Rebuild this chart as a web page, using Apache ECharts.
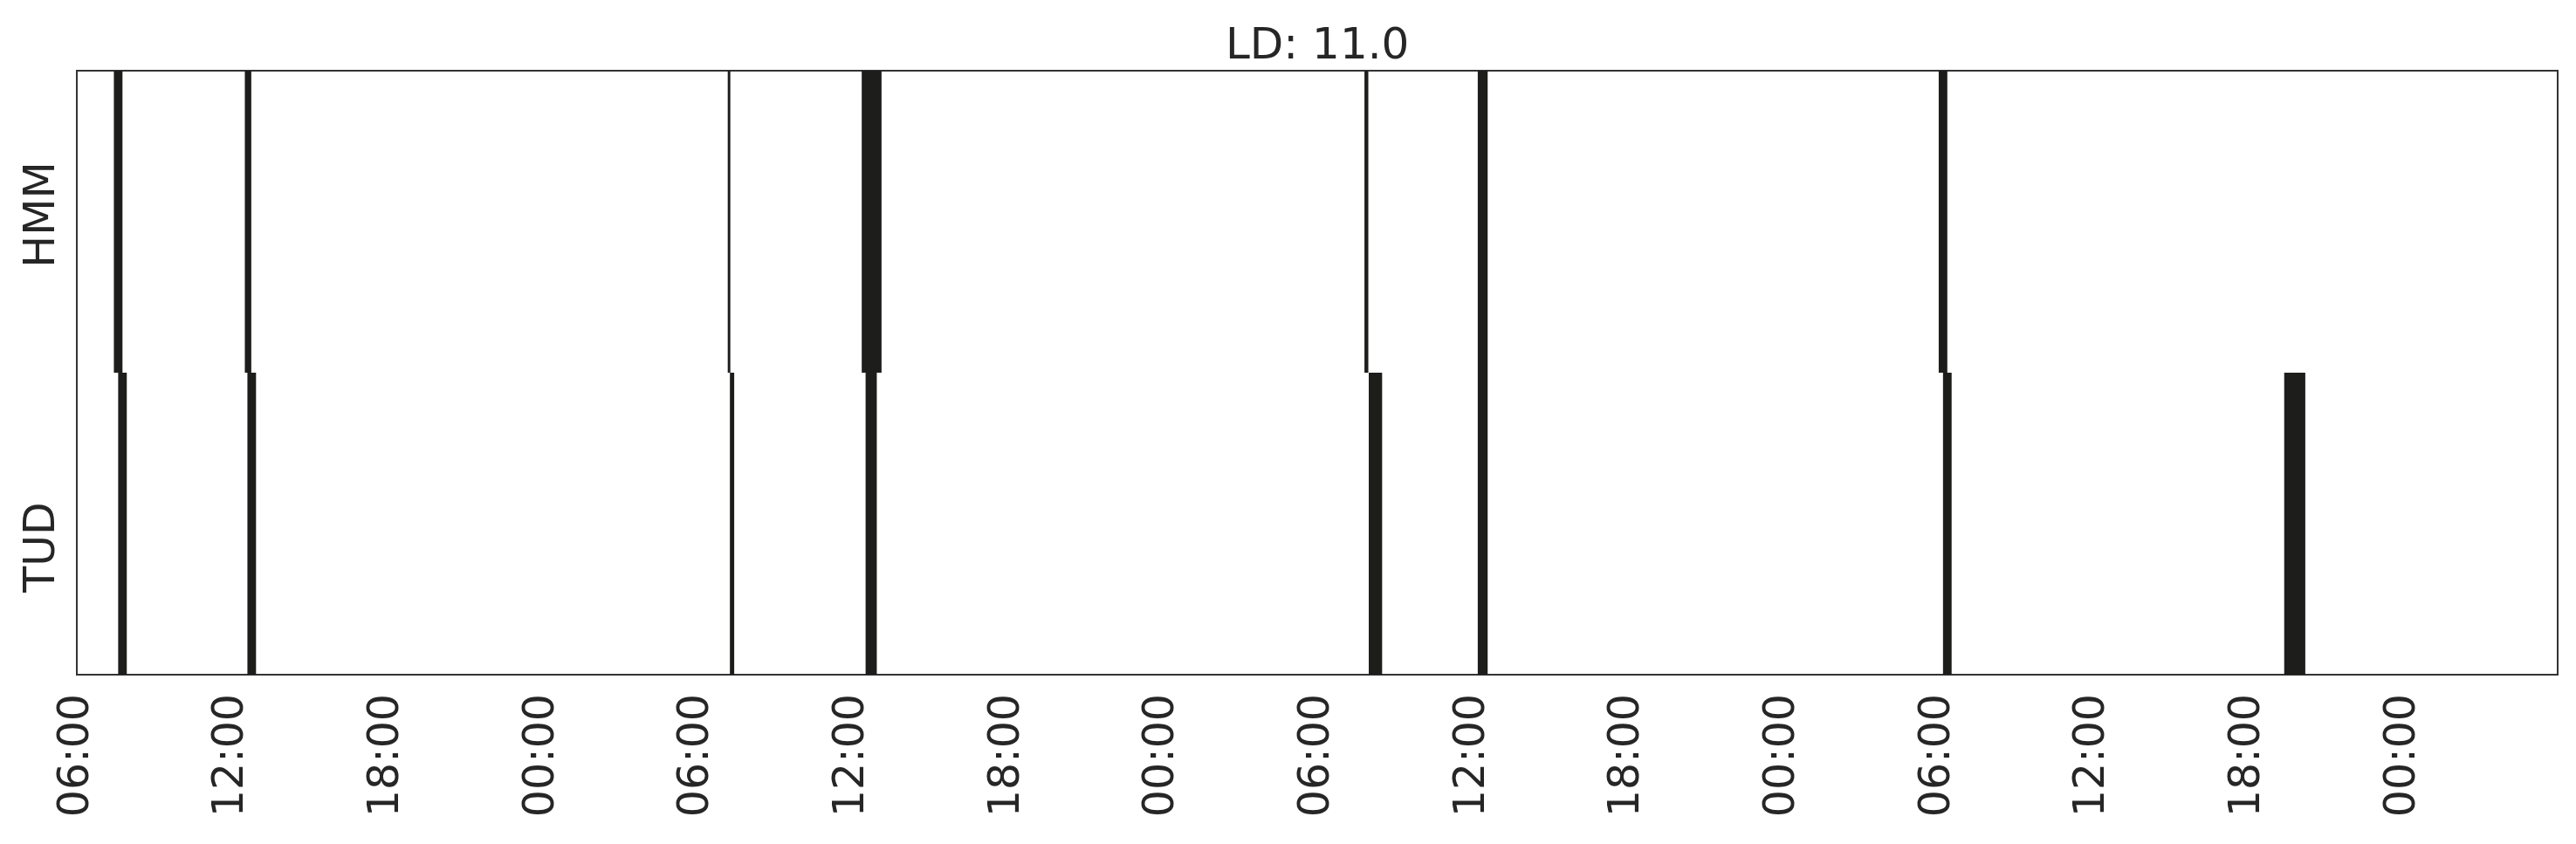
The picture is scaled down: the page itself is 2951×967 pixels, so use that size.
<!DOCTYPE html>
<html>
<head>
<meta charset="utf-8">
<script src="https://cdn.jsdelivr.net/npm/echarts@6/dist/echarts.min.js"></script>
<style>
  html, body { margin: 0; padding: 0; background: #fff; }
  #chart { width: 2951px; height: 967px; }
</style>
</head>
<body>
<div id="chart"></div>
<script>
// rows, bottom to top on the chart
const categories = ['TUD', 'HMM']
// active periods, "day HH:MM" (day 1 = first day on the axis)
const hmmEvents = [
  ['1 07:26', '1 07:46'],
  ['1 12:30', '1 12:45'],
  ['2 07:11', '2 07:17'],
  ['2 12:22', '2 13:08'],
  ['3 07:49', '3 07:58'],
  ['3 12:12', '3 12:35'],
  ['4 06:02', '4 06:22']
]
const tudEvents = [
  ['1 07:36', '1 07:56'],
  ['1 12:36', '1 12:56'],
  ['2 07:16', '2 07:26'],
  ['2 12:31', '2 12:57'],
  ['3 07:59', '3 08:30'],
  ['3 12:12', '3 12:35'],
  ['4 06:12', '4 06:32'],
  ['4 19:24', '4 20:13']
]
// axis range in hours since 00:00 of day 1
const axisStart = 6
const axisEnd = 101.98
const tickStep = 6

function toHours (s) {
  const parts = s.split(' ')
  const hm = parts[1].split(':')
  return (parseInt(parts[0]) - 1) * 24 + parseInt(hm[0]) + parseInt(hm[1]) / 60
}

function rows (events, cat) {
  return events.map(function (e) {
    return [toHours(e[0]), toHours(e[1]), categories.indexOf(cat)]
  })
}

const data = rows(hmmEvents, 'HMM').concat(rows(tudEvents, 'TUD'))

const font = 'DejaVu Sans'
const textColor = '#262626'

const chart = echarts.init(document.getElementById('chart'))
chart.setOption({
  animation: false,
  backgroundColor: '#fff',
  title: {
    text: 'LD: 11.0',
    left: 1399,
    top: 24,
    textStyle: {
      fontFamily: font,
      fontSize: 50,
      fontWeight: 'normal',
      color: textColor
    }
  },
  grid: {
    left: 88,
    right: 21,
    top: 81,
    bottom: 194,
    show: true,
    borderColor: '#333',
    borderWidth: 2,
    backgroundColor: '#fff'
  },
  xAxis: {
    type: 'value',
    min: axisStart,
    max: axisEnd,
    interval: tickStep,
    axisLine: { show: false },
    axisTick: { show: false },
    splitLine: { show: false },
    axisLabel: {
      rotate: 90,
      margin: 22,
      padding: [22, 0, 0, 0],
      showMaxLabel: false,
      fontFamily: font,
      fontSize: 49,
      color: textColor,
      formatter: function (v) {
        const h = Math.round(v) % 24
        return (h < 10 ? '0' : '') + h + ':00'
      }
    }
  },
  yAxis: {
    type: 'category',
    data: [
      { value: categories[0], textStyle: { padding: [0, 54, 0, 0] } },
      { value: categories[1], textStyle: { padding: [0, 0, 0, 16] } }
    ],
    axisLine: { show: false },
    axisTick: { show: false },
    splitLine: { show: false },
    axisLabel: {
      rotate: 90,
      margin: 14,
      fontFamily: font,
      fontSize: 49,
      color: textColor
    }
  },
  series: [{
    type: 'custom',
    encode: { x: [0, 1], y: 2 },
    data: data,
    renderItem: function (params, api) {
      const start = api.coord([api.value(0), api.value(2)])
      const end = api.coord([api.value(1), api.value(2)])
      const h = api.size([0, 1])[1]
      const rect = echarts.graphic.clipRectByRect({
        x: start[0],
        y: start[1] - h / 2,
        width: Math.max(end[0] - start[0], 1),
        height: h
      }, {
        x: params.coordSys.x,
        y: params.coordSys.y,
        width: params.coordSys.width,
        height: params.coordSys.height
      })
      return rect && {
        type: 'rect',
        shape: rect,
        style: { fill: '#1d1d1b' }
      }
    }
  }]
})
window.addEventListener('resize', chart.resize)
</script>
</body>
</html>
